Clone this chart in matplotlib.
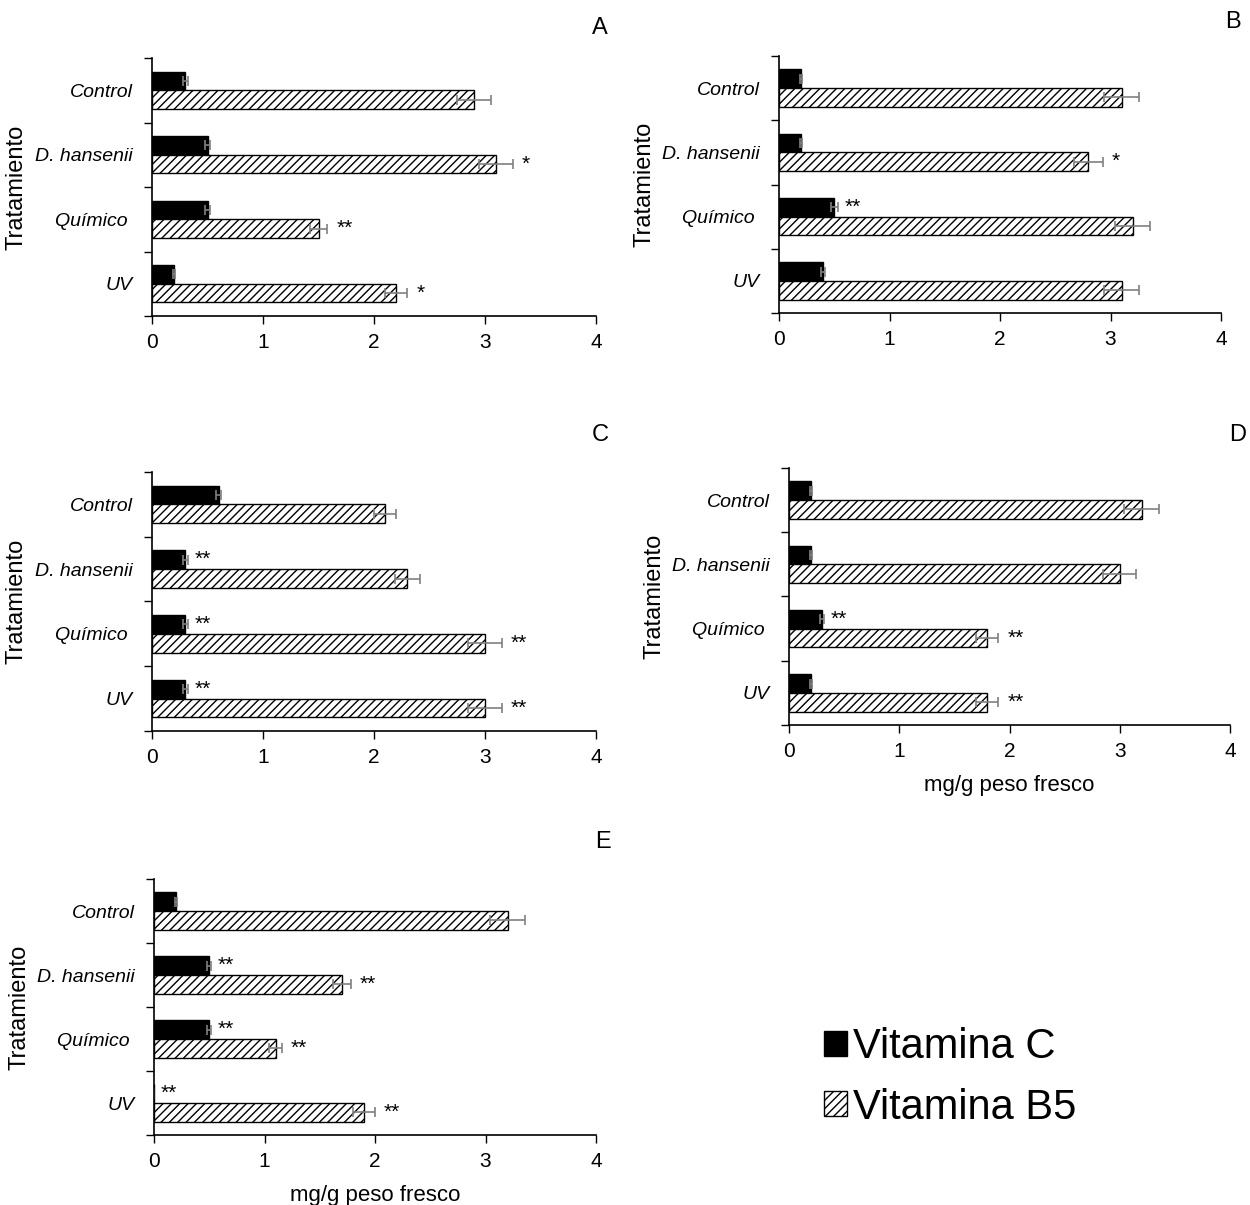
import numpy as np
import matplotlib
matplotlib.use("Agg")
import matplotlib.pyplot as plt
from matplotlib.patches import Patch

categories = ["Control", "D. hansenii", "Químico ", "UV"]

# Vitamina C / Vitamina B5 (mg/g peso fresco), panels A-E
vitc = {
    "A": [0.3, 0.5, 0.5, 0.2],
    "B": [0.2, 0.2, 0.5, 0.4],
    "C": [0.6, 0.3, 0.3, 0.3],
    "D": [0.2, 0.2, 0.3, 0.2],
    "E": [0.2, 0.5, 0.5, 0.0],
}
vitc_err = {
    "A": [0.02, 0.02, 0.02, 0.01],
    "B": [0.01, 0.01, 0.03, 0.02],
    "C": [0.02, 0.02, 0.02, 0.02],
    "D": [0.01, 0.01, 0.02, 0.01],
    "E": [0.01, 0.02, 0.02, 0.0],
}
b5 = {
    "A": [2.9, 3.1, 1.5, 2.2],
    "B": [3.1, 2.8, 3.2, 3.1],
    "C": [2.1, 2.3, 3.0, 3.0],
    "D": [3.2, 3.0, 1.8, 1.8],
    "E": [3.2, 1.7, 1.1, 1.9],
}
b5_err = {
    "A": [0.15, 0.15, 0.08, 0.1],
    "B": [0.16, 0.13, 0.16, 0.16],
    "C": [0.1, 0.11, 0.15, 0.15],
    "D": [0.16, 0.15, 0.1, 0.1],
    "E": [0.16, 0.08, 0.06, 0.1],
}
sig_c = {
    "A": ["", "", "", ""],
    "B": ["", "", "**", ""],
    "C": ["", "**", "**", "**"],
    "D": ["", "", "**", ""],
    "E": ["", "**", "**", "**"],
}
sig_b5 = {
    "A": ["", "*", "**", "*"],
    "B": ["", "*", "", ""],
    "C": ["", "", "**", "**"],
    "D": ["", "", "**", "**"],
    "E": ["", "**", "**", "**"],
}

W, H = 1250, 1205
# axes boxes in pixels: x0, x4, top, bottom
boxes = {
    "A": (152, 596, 58, 316),
    "B": (779, 1221, 56, 313),
    "C": (152, 596, 472, 731),
    "D": (789, 1230, 468, 725),
    "E": (154, 596, 879, 1135),
}
letters = {"A": (600, 28), "B": (1233, 22), "C": (600, 435), "D": (1238, 435), "E": (603, 842)}
with_xlabel = ["D", "E"]

narrow = ["Liberation Sans Narrow", "Liberation Sans", "DejaVu Sans"]
plt.rcParams["font.family"] = ["Liberation Sans", "DejaVu Sans"]
plt.rcParams["hatch.linewidth"] = 1.0

fig = plt.figure(figsize=(W / 100, H / 100), dpi=100)
h = 0.29
y = np.arange(len(categories))

for key, (x0, x4, top, bot) in boxes.items():
    ax = fig.add_axes([x0 / W, 1 - bot / H, (x4 - x0) / W, (bot - top) / H])
    ax.barh(y - h / 2, vitc[key], height=h, color="black", edgecolor="black", linewidth=1)
    ax.barh(y + h / 2, b5[key], height=h, color="white", edgecolor="black", hatch="////", linewidth=1)
    ax.errorbar(vitc[key], y - h / 2, xerr=vitc_err[key], fmt="none", ecolor="#808080",
                elinewidth=1.2, capsize=3.5, capthick=1.2)
    ax.errorbar(b5[key], y + h / 2, xerr=b5_err[key], fmt="none", ecolor="#808080",
                elinewidth=1.2, capsize=3.5, capthick=1.2)
    for i in range(len(categories)):
        if sig_c[key][i]:
            ax.text(vitc[key][i] + vitc_err[key][i] + 0.06, y[i] - h / 2, sig_c[key][i],
                    va="center", ha="left", fontsize=15)
        if sig_b5[key][i]:
            ax.text(b5[key][i] + b5_err[key][i] + 0.08, y[i] + h / 2, sig_b5[key][i],
                    va="center", ha="left", fontsize=15)
    ax.set_xlim(0, 4)
    ax.set_ylim(3.5, -0.5)
    ax.set_xticks([0, 1, 2, 3, 4])
    ax.set_xticklabels(["0", "1", "2", "3", "4"], family=narrow, fontsize=15)
    ax.set_yticks(np.arange(-0.5, 4, 1))
    ax.set_yticklabels([])
    ax.set_yticks(y, minor=True)
    ax.set_yticklabels(categories, minor=True, family=narrow, style="italic", fontsize=14)
    ax.tick_params(axis="y", which="minor", length=0, pad=14)
    ax.tick_params(axis="y", which="major", length=6, width=1)
    ax.tick_params(axis="x", length=6, width=1, pad=6)
    for s in ["top", "right"]:
        ax.spines[s].set_visible(False)
    for s in ["left", "bottom"]:
        ax.spines[s].set_linewidth(1.2)
    ax.set_ylabel("Tratamiento", fontsize=17)
    ax.yaxis.set_label_coords(-0.28, 0.5)
    if key in with_xlabel:
        ax.set_xlabel("mg/g peso fresco", family=narrow, fontsize=16, labelpad=10)
    lx, ly = letters[key]
    fig.text(lx / W, 1 - ly / H, key, fontsize=17, ha="center", va="center")

handles = [Patch(facecolor="black", edgecolor="black"),
           Patch(facecolor="white", edgecolor="black", hatch="////")]
fig.legend(handles, ["Vitamina C", "Vitamina B5"], loc="center", bbox_to_anchor=(0.76, 0.106),
           fontsize=30, frameon=False, handlelength=0.55, handleheight=0.55,
           handletextpad=0.15, labelspacing=0.5)

fig.savefig("out.png", dpi=100)
